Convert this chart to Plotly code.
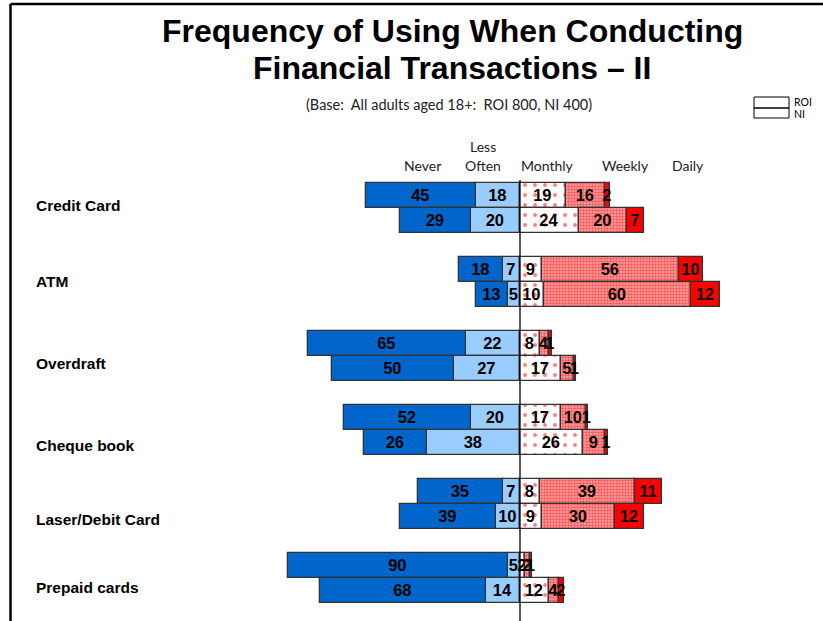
import plotly.graph_objects as go

# ---- data -----------------------------------------------------------------
categories = ["Credit Card", "ATM", "Overdraft", "Cheque book", "Laser/Debit Card", "Prepaid cards"]
groups = ["ROI", "NI"]

never_roi = [45, 18, 65, 52, 35, 90]
never_ni = [29, 13, 50, 26, 39, 68]
less_roi = [18, 7, 22, 20, 7, 5]
less_ni = [20, 5, 27, 38, 10, 14]
monthly_roi = [19, 9, 8, 17, 8, 2]
monthly_ni = [24, 10, 17, 26, 9, 12]
weekly_roi = [16, 56, 4, 10, 39, 2]
weekly_ni = [20, 60, 5, 9, 30, 4]
daily_roi = [2, 10, 1, 1, 11, 1]
daily_ni = [7, 12, 1, 1, 12, 2]

title_lines = ["Frequency of Using When Conducting", "Financial Transactions \u2013 II"]
subtitle = "(Base:  All adults aged 18+:  ROI 800, NI 400)"

# ---- geometry (pixels) ----------------------------------------------------
W, H = 823, 621
PLOT_L, PLOT_R, PLOT_T = 270, 760, 170
ZERO_PX, PX_PER_UNIT = 520, 2.44
ROW0_PX, ROW_PX = 208, 74
OFFSET = 0.172          # ROI above / NI below group centre, in row units
BAR_W = 0.338

def X(px):
    return px / W

def Y(py):
    return 1 - py / H

x_range = [(PLOT_L - ZERO_PX) / PX_PER_UNIT, (PLOT_R - ZERO_PX) / PX_PER_UNIT]
y_top = (PLOT_T - ROW0_PX) / ROW_PX
y_bot = (H - ROW0_PX) / ROW_PX

roi_y = [i - OFFSET for i in range(len(categories))]
ni_y = [i + OFFSET for i in range(len(categories))]

LINE = dict(color="#333333", width=1.3)
NUM_SIZE = 16.5
NUM_FONT = dict(family="Liberation Sans, Arial, sans-serif", size=NUM_SIZE, color="black", weight="bold")
LABEL_FONT = "Lato, Calibri, sans-serif"

series = [
    # (name, roi, ni, sign, marker)
    ("Less Often", less_roi, less_ni, -1, dict(color="#99CCFF")),
    ("Never", never_roi, never_ni, -1, dict(color="#0066CC")),
    ("Monthly", monthly_roi, monthly_ni, 1,
     dict(color="white", pattern=dict(shape=".", fgcolor="#FF0000", bgcolor="white",
                                      size=10, solidity=0.12))),
    ("Weekly", weekly_roi, weekly_ni, 1,
     dict(color="#FFA0A0", pattern=dict(shape=".", fgcolor="#FF0000", bgcolor="#FFA8A8",
                                        size=3, solidity=0.5))),
    ("Daily", daily_roi, daily_ni, 1, dict(color="#FF0000")),
]

fig = go.Figure()
for name, roi, ni, sign, marker in series:
    vals = [sign * v for v in roi] + [sign * v for v in ni]
    labels = [str(v) for v in roi] + [str(v) for v in ni]
    fig.add_trace(go.Bar(
        name=name,
        orientation="h",
        x=vals,
        y=roi_y + ni_y,
        width=BAR_W,
        text=labels,
        textposition="inside",
        insidetextanchor="middle",
        textangle=0,
        constraintext="none",
        textfont=NUM_FONT,
        marker=dict(line=LINE, **marker),
        hoverinfo="skip",
        showlegend=False,
    ))

annotations = []
for k, line in enumerate(title_lines):
    annotations.append(dict(
        x=X(452), y=Y(31 + 37 * k), xref="paper", yref="paper",
        text=f"<b>{line}</b>", showarrow=False, xanchor="center", yanchor="middle",
        font=dict(family="Liberation Sans Narrow, Arial Narrow, Arial, sans-serif",
                  size=32, color="black"),
    ))
annotations.append(dict(
    x=X(449), y=Y(105), xref="paper", yref="paper", text=subtitle, showarrow=False,
    xanchor="center", yanchor="middle", font=dict(family=LABEL_FONT, size=14.5, color="#222"),
))

# column headers
headers = [("Never", 423, [165]), ("Less", 483, [147]), ("Often", 483, [165]),
           ("Monthly", 547, [165]), ("Weekly", 625, [165]), ("Daily", 688, [165])]
for text, hx, hys in headers:
    for hy in hys:
        annotations.append(dict(
            x=X(hx), y=Y(hy), xref="paper", yref="paper", text=text, showarrow=False,
            xanchor="center", yanchor="middle", font=dict(family=LABEL_FONT, size=14, color="#222"),
        ))

# category labels
label_y_px = [205, 281, 363, 445, 519, 587]
for cat, ly in zip(categories, label_y_px):
    annotations.append(dict(
        x=X(34), y=Y(ly), xref="paper", yref="paper", text=f"<b>{cat}</b>", showarrow=False,
        xanchor="left", yanchor="middle",
        font=dict(family="Liberation Sans, Arial, sans-serif", size=15.5, color="black"),
    ))

# legend key
for g, ty in zip(groups, [102, 114]):
    annotations.append(dict(
        x=X(792), y=Y(ty), xref="paper", yref="paper", text=g, showarrow=False,
        xanchor="left", yanchor="middle", font=dict(family=LABEL_FONT, size=10.5, color="black"),
    ))

shapes = [
    # slide frame
    dict(type="line", xref="paper", yref="paper", x0=X(10.5), x1=X(10.5), y0=0, y1=Y(4),
         line=dict(color="black", width=2.5)),
    dict(type="line", xref="paper", yref="paper", x0=X(10.5), x1=1, y0=Y(4), y1=Y(4),
         line=dict(color="black", width=2.5)),
    # legend boxes
    dict(type="rect", xref="paper", yref="paper", x0=X(754), x1=X(789), y0=Y(97), y1=Y(108),
         line=dict(color="black", width=1)),
    dict(type="rect", xref="paper", yref="paper", x0=X(754), x1=X(789), y0=Y(108), y1=Y(118),
         line=dict(color="black", width=1)),
    # zero line
    dict(type="line", xref="x", yref="y", x0=0, x1=0, y0=-0.38, y1=y_bot,
         line=dict(color="black", width=1.3), layer="above"),
]

fig.update_layout(
    width=W, height=H,
    margin=dict(l=0, r=0, t=0, b=0),
    paper_bgcolor="white", plot_bgcolor="white",
    barmode="relative",
    bargap=0,
    uniformtext=dict(minsize=NUM_SIZE, mode="show"),
    xaxis=dict(domain=[X(PLOT_L), X(PLOT_R)], range=x_range, visible=False, fixedrange=True),
    yaxis=dict(domain=[0, Y(PLOT_T)], range=[y_bot, y_top], visible=False, fixedrange=True),
    annotations=annotations,
    shapes=shapes,
)

fig.write_html("out.html")
